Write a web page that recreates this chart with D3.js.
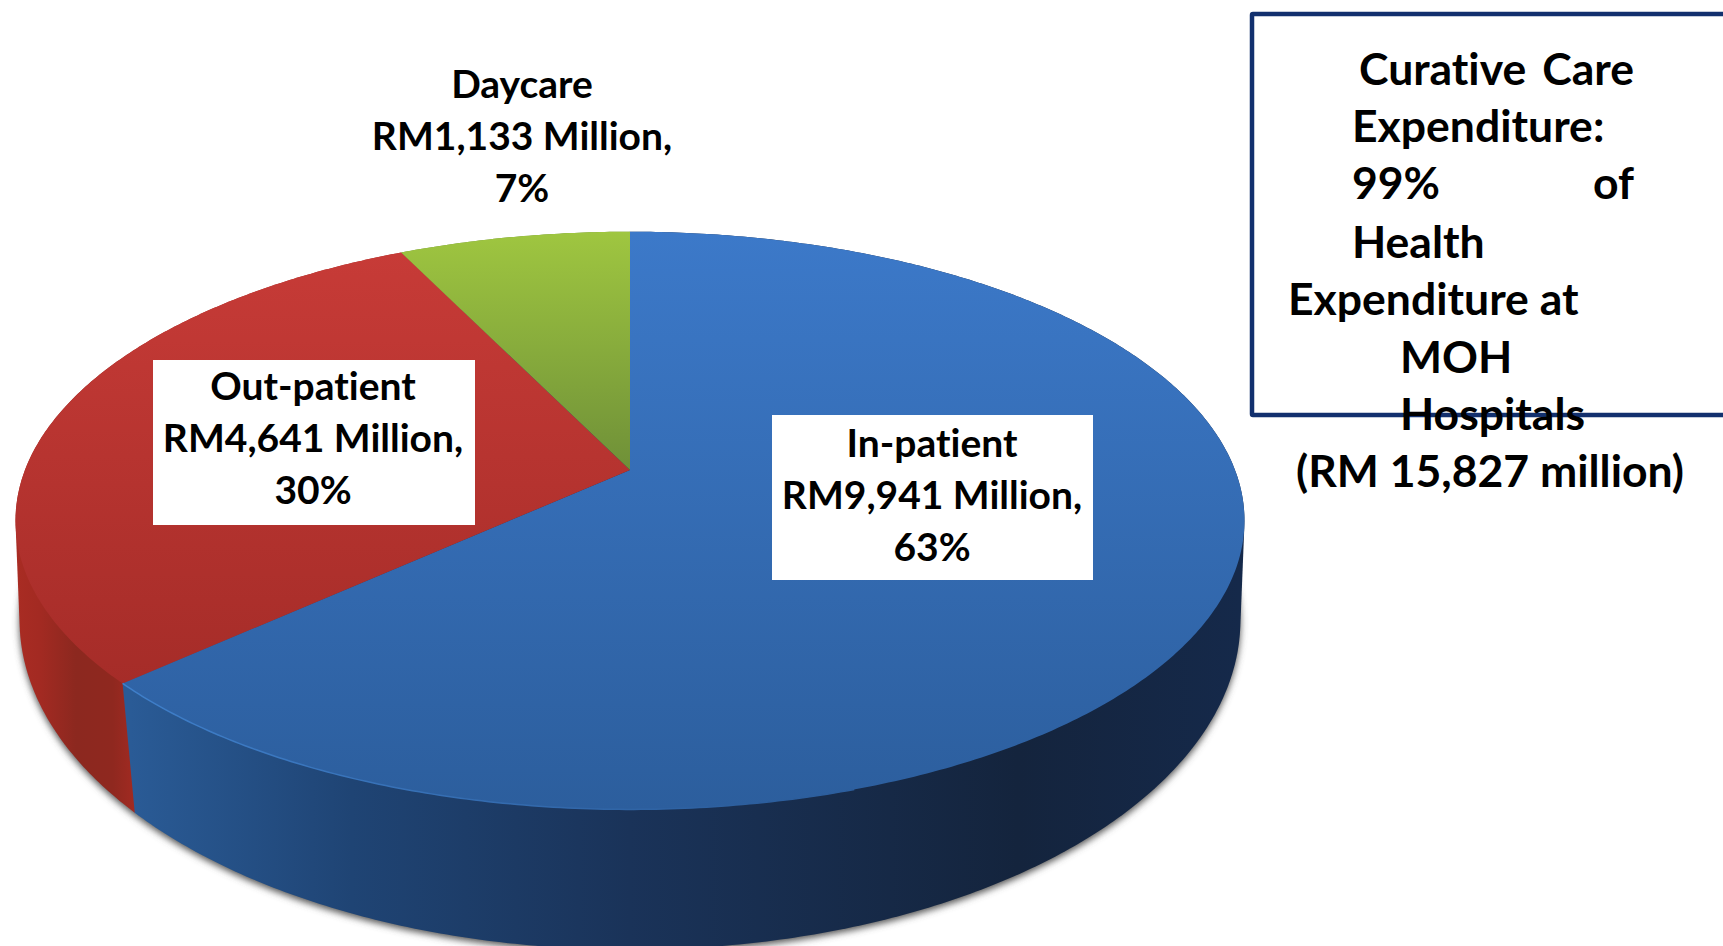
<!DOCTYPE html>
<html>
<head>
<meta charset="utf-8">
<title>Curative Care Expenditure</title>
<script src="https://cdn.jsdelivr.net/npm/d3@7/dist/d3.min.js"></script>
<style>
    html, body { margin: 0; padding: 0; background: #fff; overflow: hidden; }
    text { font-family: Lato, "Open Sans", sans-serif; font-weight: 700; fill: #000; font-variant-ligatures: none; }
</style>
</head>
<body>
<div id="chart"></div>
<script>
//Chart values
var categories  = ["In-patient", "Out-patient", "Daycare"];
var amounts     = [9941, 4641, 1133];
var amountText  = ["RM9,941 Million,", "RM4,641 Million,", "RM1,133 Million,"];
var percentText = ["63%", "30%", "7%"];

//Colours, same order as categories
var topLight  = ["#3c79c9", "#c73b37", "#9fc640"];
var topDark   = ["#2c5e9d", "#a52c28", "#6f9038"];
var wallColor = [
     ["#2a5b96", "#1f4474", "#1a3359", "#14243d", "#15294a"]
    ,["#a92c23", "#a32a22", "#8c281f", "#8f281f", "#a32a22"]
    ,["#6f9038", "#6f9038", "#6f9038", "#6f9038", "#6f9038"]
];

var width = 1723, height = 946;

var svg = d3.select("#chart").append("svg")
    .attr("width", width)
    .attr("height", height);
var defs = svg.append("defs");

//Perspective of the disc: near edge bigger than far edge
var cx = 630;
var topDisc  = {y: 470, rx: 605, ry: 280, tilt: 0.175};
var baseDisc = {y: 572, rx: 604, ry: 323, tilt: 0.145};

function project(a, disc)
{
    var s = Math.sin(a), c = -Math.cos(a), d = 1 - disc.tilt * c;
    return [cx + disc.rx * s / d, disc.y + disc.ry * c / d];
}

function arcPoints(a0, a1, disc)
{
    var n = Math.ceil((a1 - a0) / 0.01);
    return d3.range(n + 1).map(function(i){
        return project(a0 + (a1 - a0) * i / n, disc);
    });
}

var line = d3.line();
var slices = d3.pie().sort(null)(amounts);

//Gradients
slices.forEach(function(s, i){
    var g = defs.append("linearGradient")
        .attr("id", "top" + i)
        .attr("gradientUnits", "userSpaceOnUse")
        .attr("x1", 0).attr("x2", 0)
        .attr("y1", i == 1 ? 250 : 232)
        .attr("y2", i == 2 ? 470 : (i == 1 ? 690 : 810));
    g.append("stop").attr("offset", 0).attr("stop-color", topLight[i]);
    g.append("stop").attr("offset", 1).attr("stop-color", topDark[i]);

    var w = defs.append("linearGradient")
        .attr("id", "wall" + i)
        .attr("gradientUnits", "userSpaceOnUse")
        .attr("y1", 0).attr("y2", 0);
    if (i == 1) { w.attr("x1", 15).attr("x2", 137); }
    else { w.attr("x1", 130).attr("x2", 1240); }
    var stops = i == 1 ? [0, 0.2, 0.5, 0.8, 1] : [0, 0.2, 0.45, 0.8, 1];
    stops.forEach(function(o, j){
        w.append("stop").attr("offset", o).attr("stop-color", wallColor[i][j]);
    });
});

var blur = defs.append("filter")
    .attr("id", "soft")
    .attr("x", "-5%").attr("y", "-5%")
    .attr("width", "110%").attr("height", "110%");
blur.append("feGaussianBlur").attr("stdDeviation", 3.5);

var rimGrad = defs.append("linearGradient")
    .attr("id", "rim")
    .attr("gradientUnits", "userSpaceOnUse")
    .attr("x1", 130).attr("x2", 760)
    .attr("y1", 0).attr("y2", 0);
rimGrad.append("stop").attr("offset", 0).attr("stop-color", "#3f7fca");
rimGrad.append("stop").attr("offset", 1).attr("stop-color", "#2c5e9d");

//Soft shadow under the disc
svg.append("path")
    .attr("d", line(arcPoints(0, 2 * Math.PI, baseDisc)) + "Z")
    .attr("transform", "translate(0,3)")
    .attr("fill", "#555")
    .attr("filter", "url(#soft)");

//Walls, hull of the upper and lower arc of each slice.
//Drawn last slice first so the blue wall keeps its seam with the red one
svg.append("g").selectAll("path")
    .data(slices.slice().reverse())
    .enter().append("path")
    .attr("fill", function(d){ return "url(#wall" + d.index + ")"; })
    .attr("d", function(d){
        var upper = arcPoints(d.startAngle, d.endAngle, topDisc);
        var lower = arcPoints(d.startAngle, d.endAngle, baseDisc);
        return "M" + d3.polygonHull(upper.concat(lower)).join("L") + "Z";
    });

//Top faces
svg.append("g").selectAll("path")
    .data(slices)
    .enter().append("path")
    .attr("fill", function(d, i){ return "url(#top" + i + ")"; })
    .attr("d", function(d){
        var pts = arcPoints(d.startAngle, d.endAngle, topDisc);
        pts.push([cx, topDisc.y]);
        return line(pts) + "Z";
    });

//Thin light rim on the front edge of the blue slice
var frontStart = Math.PI * 0.9;
svg.append("path")
    .attr("d", line(arcPoints(frontStart, slices[0].endAngle, topDisc)))
    .attr("fill", "none")
    .attr("stroke", "url(#rim)")
    .attr("stroke-width", 1.5);

//Data labels
var labelSize = 39;
var labelBoxes = [
     {x: 772, y: 415, w: 321, h: 165}
    ,{x: 153, y: 360, w: 322, h: 165}
    ,null
];
var labelPos = [
     {x: 932, y: 457}
    ,{x: 313, y: 400}
    ,{x: 522, y: 98}
];
var lineGap = 52;

categories.forEach(function(name, i){
    if (labelBoxes[i])
    {
        svg.append("rect")
            .attr("x", labelBoxes[i].x).attr("y", labelBoxes[i].y)
            .attr("width", labelBoxes[i].w).attr("height", labelBoxes[i].h)
            .attr("fill", "#fff");
    }
    [name, amountText[i], percentText[i]].forEach(function(t, j){
        svg.append("text")
            .attr("x", labelPos[i].x)
            .attr("y", labelPos[i].y + j * lineGap)
            .attr("text-anchor", "middle")
            .attr("font-size", labelSize)
            .text(t);
    });
});

//Note box, runs off the right side of the page
svg.append("rect")
    .attr("x", 1252).attr("y", 14)
    .attr("width", 500).attr("height", 401)
    .attr("rx", 1)
    .attr("fill", "none")
    .attr("stroke", "#12306e")
    .attr("stroke-width", 4.5);

var noteSize = 44.5;
var noteWords = [
     ["Curative", 1359, 85, "start"]
    ,["Care", 1634, 85, "end"]
    ,["Expenditure:", 1352, 142, "start"]
    ,["99%", 1352, 199, "start"]
    ,["of", 1634, 199, "end"]
    ,["Health", 1352, 258, "start"]
    ,["Expenditure at", 1288, 315, "start"]
    ,["MOH", 1400, 373, "start"]
    ,["Hospitals", 1400, 430, "start"]
    ,["(RM 15,827 million)", 1296, 487, "start"]
];

svg.append("g").selectAll("text")
    .data(noteWords)
    .enter().append("text")
    .attr("x", function(d){ return d[1]; })
    .attr("y", function(d){ return d[2]; })
    .attr("text-anchor", function(d){ return d[3]; })
    .attr("font-size", noteSize)
    .text(function(d){ return d[0]; });
</script>
</body>
</html>
